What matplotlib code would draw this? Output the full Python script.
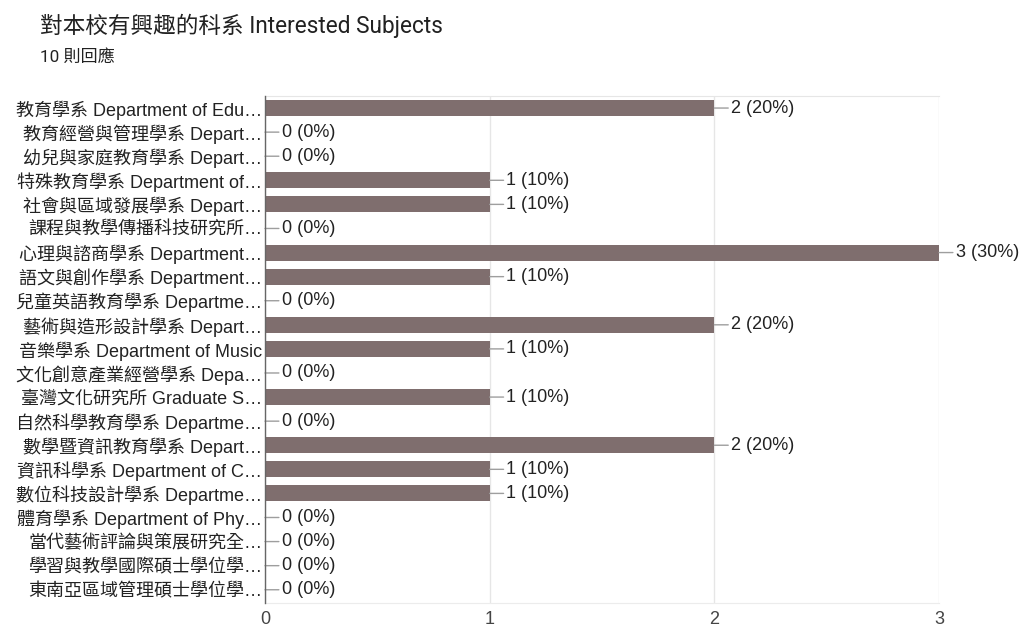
import matplotlib
matplotlib.use("Agg")
import matplotlib.pyplot as plt

title = "對本校有興趣的科系 Interested Subjects"
subtitle = "10 則回應"
categories = [
    "教育學系 Department of Edu…",
    "教育經營與管理學系 Depart…",
    "幼兒與家庭教育學系 Depart…",
    "特殊教育學系 Department of…",
    "社會與區域發展學系 Depart…",
    "課程與教學傳播科技研究所…",
    "心理與諮商學系 Department…",
    "語文與創作學系 Department…",
    "兒童英語教育學系 Departme…",
    "藝術與造形設計學系 Depart…",
    "音樂學系 Department of Music",
    "文化創意產業經營學系 Depa…",
    "臺灣文化研究所 Graduate S…",
    "自然科學教育學系 Departme…",
    "數學暨資訊教育學系 Depart…",
    "資訊科學系 Department of C…",
    "數位科技設計學系 Departme…",
    "體育學系 Department of Phy…",
    "當代藝術評論與策展研究全…",
    "學習與教學國際碩士學位學…",
    "東南亞區域管理碩士學位學…",
]
counts = [2, 0, 0, 1, 1, 0, 3, 1, 0, 2, 1, 0, 1, 0, 2, 1, 1, 0, 0, 0, 0]
percents = [20, 0, 0, 10, 10, 0, 30, 10, 0, 20, 10, 0, 10, 0, 20, 10, 10, 0, 0, 0, 0]
xticks = [0, 1, 2, 3]

lab_fam = ["Liberation Sans", "Noto Sans CJK TC", "DejaVu Sans"]
title_fam = ["Roboto", "Noto Sans CJK TC", "DejaVu Sans"]
plt.rcParams["font.family"] = lab_fam

fig = plt.figure(figsize=(10.22, 6.29), dpi=100)
ax = fig.add_axes([265 / 1022, 1 - 603 / 629, (939 - 265) / 1022, (603 - 96) / 629])

ypos = list(range(len(categories)))
ax.barh(ypos, counts, height=0.66, color="#7f6e6e", zorder=3)

for y, c, p in zip(ypos, counts, percents):
    ax.annotate(f"{c} ({p}%)", xy=(c, y), xytext=(12, 0), textcoords="offset points",
                va="center", ha="left", fontsize=13, color="#222222",
                arrowprops=dict(arrowstyle="-", color="#9e9e9e", lw=1, shrinkA=0, shrinkB=0),
                annotation_clip=False)

ax.set_xlim(0, 3)
ax.set_ylim(20.55, -0.5)
ax.set_xticks(xticks)
ax.set_xticklabels([str(t) for t in xticks])
ax.set_yticks(ypos)
ax.set_yticklabels(categories)
ax.tick_params(axis="y", length=0, pad=2, labelsize=13, labelcolor="#222222")
ax.tick_params(axis="x", length=0, pad=6, labelsize=13, labelcolor="#444444")
ax.grid(axis="x", color="#e6e6e6", lw=1, zorder=0)
ax.spines["right"].set_visible(False)
ax.spines["bottom"].set_color("#ececec")
ax.spines["top"].set_color("#e6e6e6")
ax.spines["left"].set_color("#666666")
ax.spines["left"].set_linewidth(1)
ax.spines["left"].set_zorder(4)

fig.text(40 / 1022, 1 - 26 / 629, title, fontsize=16.3, color="#212121", va="center", ha="left",
         family=title_fam)
fig.text(40 / 1022, 1 - 57 / 629, subtitle, fontsize=12.3, color="#212121", va="center", ha="left",
         family=title_fam)

fig.savefig("out.png", dpi=100)
